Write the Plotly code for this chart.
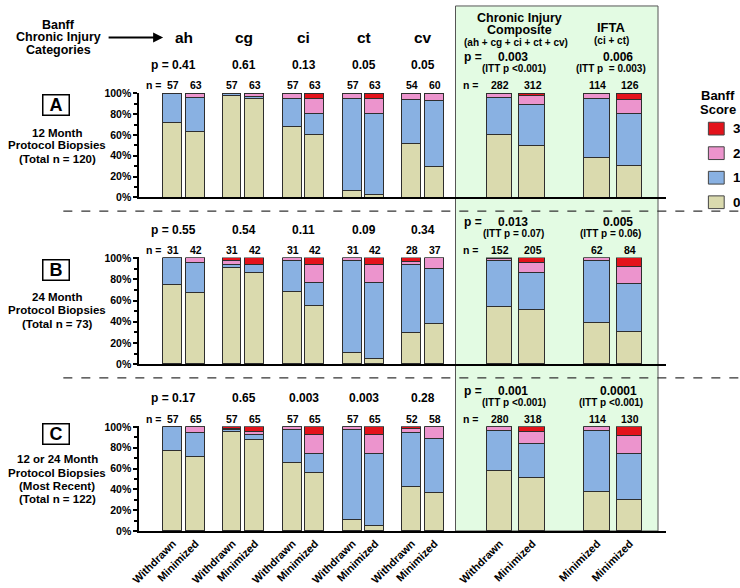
import plotly.graph_objects as go

W, H = 740, 588
FONT = "Liberation Sans, Arial, sans-serif"

# ---------------- data ----------------
groups = ["ah", "cg", "ci", "ct", "cv", "Composite", "IFTA"]
bar_names = ["Withdrawn", "Minimized"] * 6 + ["Minimized", "Minimized"]
scores = ["0", "1", "2", "3"]
y_ticks = [0, 20, 40, 60, 80, 100]
y_tick_text = ["0%", "20%", "40%", "60%", "80%", "100%"]

# Panel A: 12 month protocol biopsies (% of biopsies with each Banff score)
A_s0 = [72, 63, 98.2, 95.2, 68.4, 60.3, 7, 3, 51.9, 30, 60, 50, 38, 31]
A_s1 = [28, 33, 1.8, 1.6, 26.3, 20.6, 88, 78, 42.6, 63.3, 36, 39, 57, 50]
A_s2 = [0, 4, 0, 3.2, 5.3, 14.3, 5, 14, 5.5, 6.7, 4, 9, 5, 13.5]
A_s3 = [0, 0, 0, 0, 0, 4.8, 0, 5, 0, 0, 0, 2, 0, 5.5]

# Panel B: 24 month protocol biopsies
B_s0 = [74, 66.7, 90.3, 85.7, 67.7, 54.8, 9.7, 4.8, 28.6, 37.8, 54, 50.6, 38.7, 29.8]
B_s1 = [26, 28.6, 3.2, 7.1, 29, 21.4, 87.1, 71.4, 64.3, 51.4, 43, 35.4, 58.1, 45.2]
B_s2 = [0, 4.7, 3.3, 0, 3.3, 16.7, 3.2, 16.7, 3.6, 10.8, 1.5, 8.7, 3.2, 16.7]
B_s3 = [0, 0, 3.2, 7.2, 0, 7.1, 0, 7.1, 3.5, 0, 1.5, 5.3, 0, 8.3]

# Panel C: 12 or 24 month (most recent)
C_s0 = [77.2, 70.8, 94.7, 87.7, 64.9, 55.4, 10.5, 4.6, 42.3, 36.2, 57.8, 50.9, 37.5, 29.7]
C_s1 = [22.8, 23.1, 1.8, 4.6, 31.6, 18.5, 86, 69.2, 51.9, 51.7, 38.4, 32.9, 58.8, 43.8]
C_s2 = [0, 6.1, 1.8, 3.1, 3.5, 18.5, 3.5, 18.5, 3.9, 12.1, 3.8, 10.9, 3.7, 17.7]
C_s3 = [0, 0, 1.7, 4.6, 0, 7.6, 0, 7.7, 1.9, 0, 0, 5.3, 0, 8.8]

p_A = ["0.41", "0.61", "0.13", "0.05", "0.05", "0.003", "0.006"]
p_B = ["0.55", "0.54", "0.11", "0.09", "0.34", "0.013", "0.005"]
p_C = ["0.17", "0.65", "0.003", "0.003", "0.28", "0.001", "0.0001"]
itt_A = ["(ITT p <0.001)", "(ITT p  = 0.003)"]
itt_B = ["(ITT p = 0.07)", "(ITT p = 0.06)"]
itt_C = ["(ITT p <0.001)", "(ITT p <0.001)"]
n_A = [57, 63, 57, 63, 57, 63, 57, 63, 54, 60, 282, 312, 114, 126]
n_B = [31, 42, 31, 42, 31, 42, 31, 42, 28, 37, 152, 205, 62, 84]
n_C = [57, 65, 57, 65, 57, 65, 57, 65, 52, 58, 280, 318, 114, 130]

panel_letters = ["A", "B", "C"]
panel_desc = [
    ["12 Month", "Protocol Biopsies", "(Total n = 120)"],
    ["24 Month", "Protocol Biopsies", "(Total n = 73)"],
    ["12 or 24 Month", "Protocol Biopsies", "(Most Recent)", "(Total n = 122)"],
]

colors = {"0": "#dadaae", "1": "#89b1e2", "2": "#ec94cd", "3": "#e3131b"}

# ---------------- layout geometry (pixels) ----------------
X0, X1 = 132, 665
group_center = [177.5, 237.75, 298.5, 359.25, 419.25, 513.5, 612]
small_off, big_off = 11.5, 16.5
small_w, big_w = 19, 26
panel_top = [90, 258, 430]
panel_bot = [196, 366, 536]
dash_y = [210, 380]
legend_y = [126, 151, 176, 201]

xpos, widths = [], []
for i, c in enumerate(group_center):
    off = small_off if i < 5 else big_off
    w = small_w if i < 5 else big_w
    xpos += [c - off, c + off]
    widths += [w, w]

panels = [
    (A_s0, A_s1, A_s2, A_s3),
    (B_s0, B_s1, B_s2, B_s3),
    (C_s0, C_s1, C_s2, C_s3),
]
p_vals = [p_A, p_B, p_C]
itts = [itt_A, itt_B, itt_C]
ns = [n_A, n_B, n_C]

fig = go.Figure()
for pi, pdata in enumerate(panels):
    xa = "x" if pi == 0 else f"x{pi+1}"
    ya = "y" if pi == 0 else f"y{pi+1}"
    for si, s in enumerate(scores):
        fig.add_trace(go.Bar(
            x=xpos, y=pdata[si], width=widths,
            marker=dict(color=colors[s], line=dict(color="#2e2e2e", width=1)),
            name=s, showlegend=False,
            xaxis=xa, yaxis=ya, hoverinfo="skip",
        ))

def ypaper(py):
    return 1 - py / H

ann = []
def txt(text, x, y, size, xanchor="center", bold=True, **kw):
    ann.append(dict(
        text=f"<b>{text}</b>" if bold else text,
        x=x / W, y=ypaper(y), xref="paper", yref="paper",
        showarrow=False, xanchor=xanchor, yanchor="middle",
        font=dict(family=FONT, size=size, color="black"), **kw))

# top-left title and arrow
for t, yy in zip(["Banff", "Chronic Injury", "Categories"], [20, 33, 46]):
    txt(t, 50, yy, 12.5)
ann.append(dict(text="", x=156 / W, y=ypaper(33), xref="paper", yref="paper",
                ax=-56, ay=0, showarrow=True, arrowhead=2, arrowsize=1,
                arrowwidth=2, arrowcolor="black"))
for g in range(5):
    txt(groups[g], group_center[g], 33, 15.5)
txt("Chronic Injury", 517, 13, 12.5)
txt("Composite", 517, 25.5, 12.5)
txt("(ah + cg + ci + ct + cv)", 513, 38, 10)
txt("IFTA", 610, 23, 13)
txt("(ci + ct)", 610, 36, 10)

for pi in range(3):
    top = panel_top[pi]
    txt("p =", group_center[0] - 25, top - 29, 12)
    for g in range(5):
        txt(p_vals[pi][g], group_center[g], top - 29, 12)
    txt("p =", 470, top - 37, 12)
    txt(p_vals[pi][5], 510, top - 37, 12)
    txt(p_vals[pi][6], 617, top - 37, 12)
    txt(itts[pi][0], 511, top - 25, 10)
    txt(itts[pi][1], 609, top - 25, 10)
    txt("n =", group_center[0] - 31, top - 8, 10.5)
    txt("n =", 467, top - 8, 10.5)
    for k in range(14):
        txt(str(ns[pi][k]), xpos[k], top - 8, 10.5)
    box_y = top + (12 if pi < 2 else 7)
    ann.append(dict(text=f"<b>{panel_letters[pi]}</b>", x=48 / W, y=ypaper(box_y),
                    xref="paper", yref="paper", showarrow=False,
                    font=dict(family=FONT, size=18, color="black"),
                    bordercolor="black", borderwidth=1.5, borderpad=1,
                    width=23, height=17, xanchor="center", yanchor="middle"))
    line_ys = [top + 40, top + 53, top + 67] if pi < 2 else [top + 33, top + 47, top + 60, top + 73]
    for t, yy in zip(panel_desc[pi], line_ys):
        txt(t, 49, yy, 11.5)

shapes = [
    dict(type="rect", xref="paper", yref="paper", x0=452 / W, x1=657 / W,
         y0=ypaper(536), y1=ypaper(1), fillcolor="#e3fbe3",
         line=dict(color="#555555", width=1), layer="below"),
]
for dy in dash_y:
    shapes.append(dict(type="line", xref="paper", yref="paper", x0=55 / W, x1=740 / W,
                       y0=ypaper(dy), y1=ypaper(dy),
                       line=dict(color="#333333", width=1.2, dash="dash")))

# legend (Banff score key), top score first
txt("Banff", 718, 92, 13)
txt("Score", 718, 106, 13)
for s, ly in zip(reversed(scores), legend_y):
    shapes.append(dict(type="rect", xref="paper", yref="paper",
                       x0=708 / W, x1=724 / W, y0=ypaper(ly + 6.5), y1=ypaper(ly - 6.5),
                       fillcolor=colors[s], line=dict(color="#444444", width=1)))
    txt(s, 731, ly, 13.5, xanchor="left")

layout = dict(
    width=W, height=H, margin=dict(l=0, r=0, t=0, b=0),
    paper_bgcolor="white", plot_bgcolor="rgba(0,0,0,0)",
    barmode="stack", bargap=0, showlegend=False,
    font=dict(family=FONT, color="black"),
    annotations=ann, shapes=shapes,
)
for pi in range(3):
    xk = "xaxis" if pi == 0 else f"xaxis{pi+1}"
    yk = "yaxis" if pi == 0 else f"yaxis{pi+1}"
    ya = "y" if pi == 0 else f"y{pi+1}"
    xa = "x" if pi == 0 else f"x{pi+1}"
    xd = dict(domain=[X0 / W, X1 / W], range=[X0, X1], anchor=ya,
              showline=True, linewidth=2, linecolor="black",
              showgrid=False, zeroline=False, ticks="", showticklabels=False)
    if pi == 2:
        xd.update(showticklabels=True, tickmode="array", tickvals=xpos,
                  ticktext=bar_names, tickangle=-45,
                  tickfont=dict(family=FONT, size=11, color="black", weight="bold"))
    layout[xk] = xd
    layout[yk] = dict(domain=[ypaper(panel_bot[pi]), ypaper(panel_top[pi] - 0.8)],
                      range=[0, 100.8], anchor=xa,
                      tickmode="array", tickvals=y_ticks, ticktext=y_tick_text,
                      ticks="outside", ticklen=4, tickwidth=1.5, tickcolor="black",
                      minor=dict(tickmode="array", tickvals=[10, 30, 50, 70, 90],
                                 ticks="outside", ticklen=3, tickwidth=1.5, tickcolor="black"),
                      showline=True, linewidth=2, linecolor="black",
                      showgrid=False, zeroline=False,
                      tickfont=dict(family=FONT, size=10.5, color="black", weight="bold"))

fig.update_layout(**layout)
fig.write_html("out.html", config={"displayModeBar": False},
               post_script="document.body.style.margin='0px';")
